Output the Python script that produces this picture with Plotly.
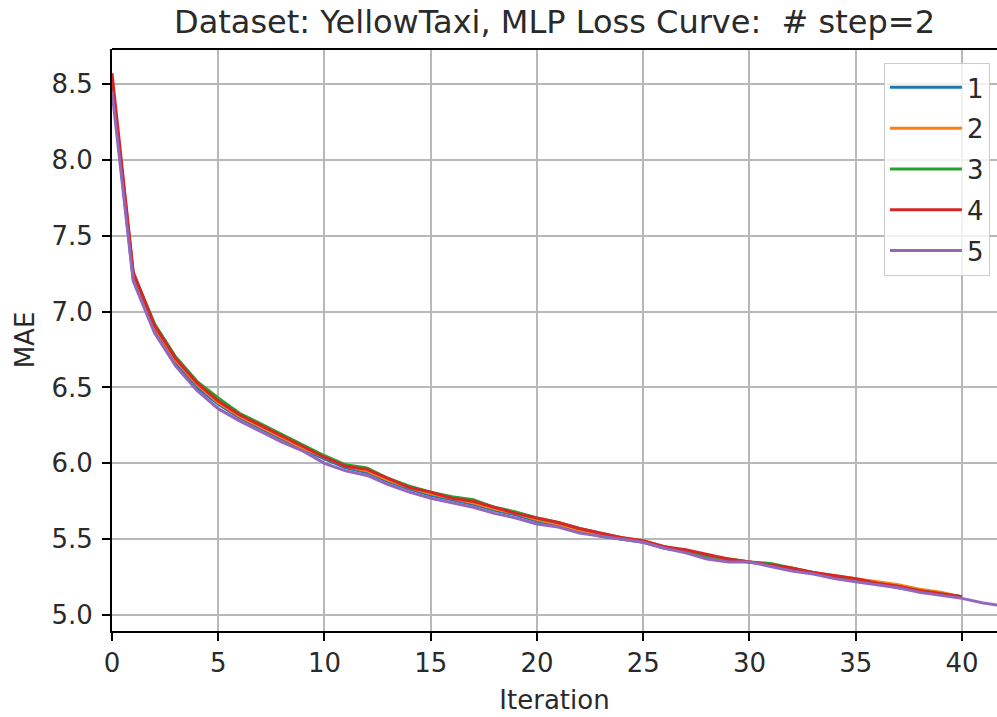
import plotly.graph_objects as go

iters_short = list(range(0, 41))
iters_long = list(range(0, 43))

s1 = [8.50, 7.21, 6.88, 6.66, 6.50, 6.39, 6.30, 6.23, 6.16, 6.09, 6.03, 5.97, 5.94, 5.88, 5.83,
      5.79, 5.76, 5.73, 5.69, 5.66, 5.62, 5.59, 5.55, 5.52, 5.50, 5.48, 5.44, 5.42, 5.38, 5.36,
      5.35, 5.33, 5.30, 5.28, 5.25, 5.23, 5.21, 5.19, 5.16, 5.14, 5.12]
s2 = [8.52, 7.24, 6.90, 6.68, 6.52, 6.40, 6.31, 6.24, 6.17, 6.10, 6.04, 5.98, 5.95, 5.89, 5.84,
      5.80, 5.77, 5.74, 5.70, 5.67, 5.63, 5.60, 5.56, 5.53, 5.51, 5.49, 5.45, 5.42, 5.39, 5.37,
      5.35, 5.33, 5.30, 5.28, 5.26, 5.24, 5.22, 5.20, 5.17, 5.15, 5.12]
s3 = [8.51, 7.25, 6.92, 6.70, 6.54, 6.43, 6.33, 6.26, 6.19, 6.12, 6.05, 5.99, 5.97, 5.90, 5.85,
      5.81, 5.78, 5.76, 5.71, 5.68, 5.64, 5.61, 5.57, 5.54, 5.51, 5.48, 5.45, 5.42, 5.39, 5.37,
      5.35, 5.34, 5.31, 5.28, 5.25, 5.23, 5.21, 5.18, 5.16, 5.14, 5.12]
s4 = [8.57, 7.26, 6.91, 6.69, 6.53, 6.41, 6.32, 6.25, 6.18, 6.11, 6.04, 5.98, 5.96, 5.90, 5.84,
      5.81, 5.77, 5.75, 5.71, 5.67, 5.64, 5.61, 5.57, 5.54, 5.51, 5.49, 5.45, 5.43, 5.40, 5.37,
      5.35, 5.33, 5.31, 5.28, 5.26, 5.24, 5.21, 5.19, 5.16, 5.14, 5.12]
s5 = [8.45, 7.20, 6.86, 6.64, 6.48, 6.36, 6.28, 6.21, 6.14, 6.08, 6.00, 5.95, 5.92, 5.86, 5.81,
      5.77, 5.74, 5.71, 5.67, 5.64, 5.60, 5.58, 5.54, 5.52, 5.50, 5.48, 5.44, 5.41, 5.37, 5.35,
      5.35, 5.32, 5.29, 5.27, 5.24, 5.22, 5.20, 5.18, 5.15, 5.13, 5.11, 5.08, 5.06]

series_names = ["1", "2", "3", "4", "5"]
series_values = [s1, s2, s3, s4, s5]
series_x = [iters_short, iters_short, iters_short, iters_short, iters_long]
colors = ["#1f77b4", "#ff7f0e", "#2ca02c", "#d62728", "#9467bd"]

x_ticks = [0, 5, 10, 15, 20, 25, 30, 35, 40]
y_ticks = [5.0, 5.5, 6.0, 6.5, 7.0, 7.5, 8.0, 8.5]

FONT = "DejaVu Sans"
TXT = "#2a2a2a"
FS = 26

fig = go.Figure()
for name, xs, ys, c in zip(series_names, series_x, series_values, colors):
    fig.add_trace(go.Scatter(x=xs, y=ys, mode="lines", name=name, legendgroup=name,
                             line=dict(color=c, width=3)))

fig.update_layout(
    width=997, height=717,
    margin=dict(l=112, r=0, t=49, b=86),
    paper_bgcolor="white", plot_bgcolor="white",
    font=dict(family=FONT, size=FS, color=TXT),
    title=dict(text="Dataset: YellowTaxi, MLP Loss Curve:  # step=2",
               x=(112 + 997) / 2 / 997, xanchor="center",
               y=1 - 22 / 717, yanchor="middle", yref="container",
               font=dict(family=FONT, size=32, color=TXT)),
    showlegend=True,
    legend=dict(x=0.992, xanchor="right", y=0.976, yanchor="top",
                bgcolor="rgba(255,255,255,0.8)", bordercolor="#cccccc", borderwidth=1,
                font=dict(family=FONT, size=FS, color=TXT),
                tracegroupgap=4, itemwidth=72),
)

fig.update_xaxes(
    range=[0, 41.65], tickmode="array", tickvals=x_ticks,
    ticktext=[str(v) for v in x_ticks],
    showgrid=True, gridcolor="#b8b8b8", gridwidth=1.8,
    showline=True, linecolor="black", linewidth=1.8, mirror=False,
    ticks="outside", ticklen=8, tickwidth=1.8, tickcolor="black",
    zeroline=False,
    title=dict(text="Iteration", font=dict(family=FONT, size=FS, color=TXT), standoff=14),
)
fig.update_yaxes(
    range=[4.895, 8.73], tickmode="array", tickvals=y_ticks,
    ticktext=[f"{v:.1f}" for v in y_ticks],
    showgrid=True, gridcolor="#b8b8b8", gridwidth=1.8,
    showline=True, linecolor="black", linewidth=1.8,
    ticks="outside", ticklen=8, tickwidth=1.8, tickcolor="black",
    ticklabelstandoff=4,
    zeroline=False,
    title=dict(text="MAE", font=dict(family=FONT, size=FS, color=TXT), standoff=9),
)
# top spine
fig.add_shape(type="line", xref="paper", yref="paper", x0=0, x1=1, y0=1, y1=1,
              line=dict(color="black", width=1.8))

fig.write_html("out.html")
